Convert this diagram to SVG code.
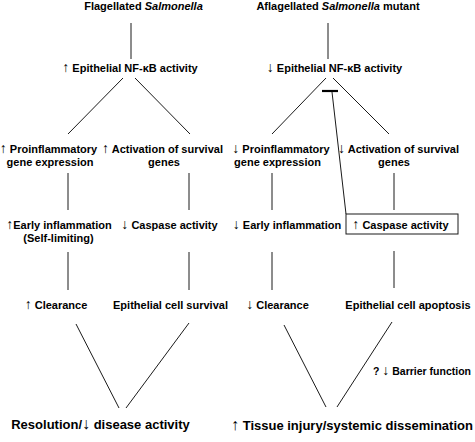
<svg xmlns="http://www.w3.org/2000/svg" width="475" height="442" viewBox="0 0 475 442">
<style>
.t{font-family:"Liberation Sans",Arial,sans-serif;font-weight:bold;font-size:11px;fill:#000;text-anchor:middle}
.big{font-size:13px}
.sm{font-size:10.5px}
.ar{font-weight:normal;font-size:14px}
.big .ar{font-size:16px}
.c line{stroke:#1a1a1a;stroke-width:1}
.bar{stroke:#000!important;stroke-width:2.2!important}
.box{fill:#fff;stroke:#1a1a1a;stroke-width:1}
</style>
<rect width="475" height="442" fill="#fff"/>
<g class="c" id="connectors">
<line x1="131" y1="23" x2="131" y2="59"/>
<line x1="328" y1="23" x2="328" y2="59"/>
<line x1="123" y1="78" x2="68" y2="134"/>
<line x1="135" y1="78" x2="190" y2="134"/>
<line x1="326" y1="78" x2="272" y2="134"/>
<line x1="333" y1="78" x2="389" y2="134"/>
<line class="bar" x1="322" y1="91" x2="338" y2="91"/>
<line x1="332" y1="92" x2="346" y2="214"/>
<line x1="68" y1="173" x2="68" y2="210"/>
<line x1="189" y1="173" x2="189" y2="210"/>
<line x1="272" y1="173" x2="272" y2="210"/>
<line x1="394" y1="173" x2="394" y2="210"/>
<line x1="68" y1="252" x2="68" y2="290"/>
<line x1="189" y1="252" x2="189" y2="290"/>
<line x1="272" y1="252" x2="272" y2="290"/>
<line x1="394" y1="251" x2="394" y2="288"/>
<line x1="76" y1="324" x2="119" y2="408"/>
<line x1="189" y1="323" x2="126" y2="408"/>
<line x1="284" y1="325" x2="326" y2="407"/>
<line x1="392" y1="322" x2="337" y2="407"/>
</g>
<g id="title-left"><text class="t" x="143.5" y="10">Flagellated <tspan font-style="italic">Salmonella</tspan></text></g>
<g id="title-right"><text class="t" x="338" y="10">Aflagellated <tspan font-style="italic">Salmonella</tspan> mutant</text></g>
<g id="nfkb-left"><text class="t" x="130" y="72"><tspan class="ar">↑</tspan> Epithelial NF-κB activity</text></g>
<g id="nfkb-right"><text class="t" x="334.5" y="72"><tspan class="ar">↓</tspan> Epithelial NF-κB activity</text></g>
<g id="proinf-left"><text class="t" x="48.5" y="153"><tspan class="ar">↑</tspan> Proinflammatory</text><text class="t" x="50" y="166">gene expression</text></g>
<g id="surv-left"><text class="t" x="162.5" y="153"><tspan class="ar">↑</tspan> Activation of survival</text><text class="t" x="164" y="166">genes</text></g>
<g id="proinf-right"><text class="t" x="281" y="153"><tspan class="ar">↓</tspan> Proinflammatory</text><text class="t" x="277.5" y="166">gene expression</text></g>
<g id="surv-right"><text class="t" x="398.5" y="153"><tspan class="ar">↓</tspan> Activation of survival</text><text class="t" x="394" y="166">genes</text></g>
<g id="early-left"><text class="t" x="59" y="229"><tspan class="ar">↑</tspan>Early inflammation</text><text class="t" x="58.5" y="242">(Self-limiting)</text></g>
<g id="casp-left"><text class="t" x="169.5" y="229"><tspan class="ar">↓</tspan> Caspase activity</text></g>
<g id="early-right"><text class="t" x="287" y="229"><tspan class="ar">↓</tspan> Early inflammation</text></g>
<g id="casp-right"><rect class="box" x="346" y="214" width="112" height="20"/><text class="t" x="400.5" y="228.5"><tspan class="ar">↑</tspan> Caspase activity</text></g>
<g id="clear-left"><text class="t" x="56" y="308.5"><tspan class="ar">↑</tspan> Clearance</text></g>
<g id="survival"><text class="t" x="170.5" y="308.5">Epithelial cell survival</text></g>
<g id="clear-right"><text class="t" x="277.5" y="308.5"><tspan class="ar">↓</tspan> Clearance</text></g>
<g id="apoptosis"><text class="t" x="408" y="308.5">Epithelial cell apoptosis</text></g>
<g id="barrier"><text class="t sm" x="422" y="375">? <tspan class="ar">↓</tspan> Barrier function</text></g>
<g id="resolution"><text class="t big" x="100.5" y="429">Resolution/<tspan class="ar">↓</tspan> disease activity</text></g>
<g id="injury"><text class="t big" x="352" y="430"><tspan class="ar">↑</tspan> Tissue injury/systemic dissemination</text></g>
</svg>
